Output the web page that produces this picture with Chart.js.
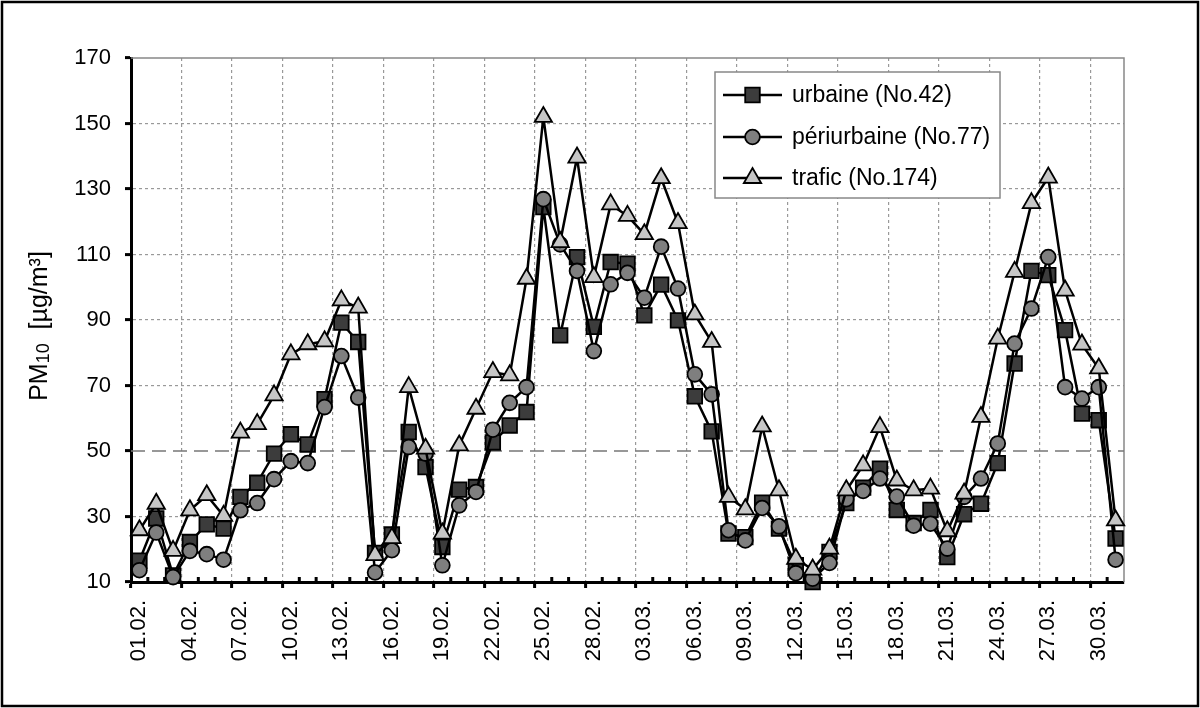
<!DOCTYPE html>
<html lang="fr">
<head>
<meta charset="UTF-8">
<title>PM10 février - mars</title>
<script src="https://cdn.jsdelivr.net/npm/chart.js@4.4.0/dist/chart.umd.min.js"></script>
<style>
  html, body { margin: 0; padding: 0; background: #fff; }
</style>
</head>
<body>
<canvas id="pm10" width="1200" height="708"></canvas>
<script>
// jours (catégories)
const dates = [
  '01.02.', '02.02.', '03.02.', '04.02.', '05.02.', '06.02.', '07.02.', '08.02.', '09.02.', '10.02.',
  '11.02.', '12.02.', '13.02.', '14.02.', '15.02.', '16.02.', '17.02.', '18.02.', '19.02.', '20.02.',
  '21.02.', '22.02.', '23.02.', '24.02.', '25.02.', '26.02.', '27.02.', '28.02.', '01.03.', '02.03.',
  '03.03.', '04.03.', '05.03.', '06.03.', '07.03.', '08.03.', '09.03.', '10.03.', '11.03.', '12.03.',
  '13.03.', '14.03.', '15.03.', '16.03.', '17.03.', '18.03.', '19.03.', '20.03.', '21.03.', '22.03.',
  '23.03.', '24.03.', '25.03.', '26.03.', '27.03.', '28.03.', '29.03.', '30.03.', '31.03.'
];

// valeurs journalières PM10 (µg/m³)
const urbaine = [
  16.5, 29.4, 12, 22.2, 27.6, 26.3, 36, 40.3, 49.2, 55.1,
  52, 65.8, 89.2, 83.3, 18.9, 24.5, 55.8, 45.1, 20.7, 38.2,
  39, 52.6, 57.8, 61.9, 124.5, 85.3, 109.2, 87.9, 107.7, 107.2,
  91.4, 100.8, 89.9, 66.7, 56, 24.8, 23.7, 34.2, 26.3, 15.1,
  10, 19.2, 34.1, 38.8, 44.6, 32, 28, 32, 17.6, 30.7,
  33.9, 46.3, 76.7, 105, 103.7, 86.9, 61.4, 59.4, 23.3
];
const periurbaine = [
  13.6, 25.1, 11.5, 19.5, 18.5, 16.8, 31.9, 34.1, 41.4, 46.9,
  46.3, 63.4, 79, 66.3, 12.9, 19.7, 51.2, 49.2, 15.1, 33.4,
  37.5, 56.5, 64.7, 69.5, 126.9, 113.1, 105, 80.5, 100.9, 104.4,
  96.8, 112.4, 99.6, 73.4, 67.3, 25.8, 22.7, 32.6, 27, 12.7,
  11, 15.8, 35.3, 37.8, 41.6, 36.1, 27.2, 27.8, 20.2, 36,
  41.6, 52.3, 82.8, 93.5, 109.2, 69.5, 66, 69.5, 16.8
];
const trafic = [
  25.8, 33.9, 19.5, 31.9, 36.5, 30.2, 55.6, 58.2, 67, 79.5,
  82.6, 83.5, 96, 93.8, 18.2, 23.4, 69.5, 50.7, 24.8, 51.7,
  62.9, 74.1, 73.1, 102.6, 152, 113.8, 139.6, 103.1, 125.3, 121.8,
  116.2, 133.3, 119.6, 91.7, 83.3, 36, 32.2, 57.5, 38, 17.1,
  13.8, 20.2, 38, 45.6, 57.3, 41, 38, 38.5, 25.5, 37,
  60.4, 84.3, 104.7, 125.7, 133.5, 99, 82.5, 75.2, 28.8
];

const seriesNames = ['urbaine (No.42)', 'périurbaine (No.77)', 'trafic (No.174)'];

// axe y : 10 à 170 par pas de 20, valeur limite 50
const yMin = 10;
const yMax = 170;
const yStep = 20;
const limitValue = 50;
const labelEvery = 3;

const FONT = 'Liberation Sans, Arial, sans-serif';
const clear = 'rgba(0,0,0,0)';

// decor : fond, valeur limite, petites graduations, titre y, légende, cadre
const decor = {
  id: 'decor',
  beforeDraw(chart) {
    const c = chart.ctx;
    c.save();
    c.fillStyle = '#fff';
    c.fillRect(0, 0, chart.width, chart.height);
    c.restore();
  },
  beforeDatasetsDraw(chart) {
    const c = chart.ctx;
    const a = chart.chartArea;
    const xs = chart.scales.x;
    const ys = chart.scales.y;
    c.save();
    // cadre haut / droite
    c.strokeStyle = '#888';
    c.lineWidth = 1.5;
    c.beginPath();
    c.moveTo(a.left, a.top);
    c.lineTo(a.right, a.top);
    c.lineTo(a.right, a.bottom);
    c.stroke();
    // ligne de la valeur limite
    const yl = ys.getPixelForValue(limitValue);
    c.strokeStyle = '#777';
    c.lineWidth = 1.5;
    c.setLineDash([14, 7]);
    c.beginPath();
    c.moveTo(a.left, yl);
    c.lineTo(a.right, yl);
    c.stroke();
    c.setLineDash([]);
    // petites graduations entre les jours
    c.strokeStyle = '#000';
    c.lineWidth = 3;
    for (let i = 1; i < dates.length; i++) {
      if (i % labelEvery === 0) continue;
      const xb = (xs.getPixelForValue(i - 1) + xs.getPixelForValue(i)) / 2;
      c.beginPath();
      c.moveTo(xb, a.bottom - 5);
      c.lineTo(xb, a.bottom);
      c.stroke();
    }
    c.restore();
  },
  afterDraw(chart) {
    const c = chart.ctx;
    const a = chart.chartArea;
    c.save();

    // titre de l'axe y : PM10  [µg/m³]
    c.translate(40, (a.top + a.bottom) / 2 + 6);
    c.rotate(-Math.PI / 2);
    c.fillStyle = '#000';
    c.textBaseline = 'middle';
    const big = '25px ' + FONT;
    const small = '18px ' + FONT;
    c.font = big;
    const w1 = c.measureText('PM').width;
    const w3 = c.measureText('  [µg/m³]').width;
    c.font = small;
    const w2 = c.measureText('10').width;
    const x0 = -(w1 + w2 + w3) / 2;
    c.font = big;
    c.fillText('PM', x0, 0);
    c.font = small;
    c.fillText('10', x0 + w1, 4);
    c.font = big;
    c.fillText('  [µg/m³]', x0 + w1 + w2, 0);
    c.setTransform(1, 0, 0, 1, 0, 0);

    // légende
    c.fillStyle = '#fff';
    c.fillRect(715, 72, 285, 126);
    c.strokeStyle = '#888';
    c.lineWidth = 1.5;
    c.strokeRect(715, 72, 285, 126);
    const rows = [95, 137, 178];
    chart.data.datasets.forEach((ds, k) => {
      const y = rows[k];
      c.strokeStyle = '#000';
      c.lineWidth = ds.borderWidth;
      c.beginPath();
      c.moveTo(723, y);
      c.lineTo(782, y);
      c.stroke();
      c.fillStyle = ds.pointBackgroundColor;
      c.strokeStyle = '#000';
      c.lineWidth = ds.pointBorderWidth;
      Chart.helpers.drawPoint(c, {
        pointStyle: ds.pointStyle, radius: ds.pointRadius, rotation: 0, borderWidth: ds.pointBorderWidth
      }, 752.5, y);
      c.fillStyle = '#000';
      c.font = '23px ' + FONT;
      c.textBaseline = 'middle';
      c.fillText(ds.label, 792, y + 1);
    });

    // cadre extérieur
    c.strokeStyle = '#000';
    c.lineWidth = 2.5;
    c.strokeRect(2, 2, chart.width - 4, chart.height - 4);
    c.restore();
  }
};

function serie(label, data, style, radius, fill, order) {
  return {
    label: label,
    data: data,
    borderColor: '#000',
    borderWidth: 2.5,
    pointStyle: style,
    pointRadius: radius,
    pointHoverRadius: radius,
    pointBackgroundColor: fill,
    pointBorderColor: '#000',
    pointBorderWidth: 1.8,
    tension: 0,
    fill: false,
    clip: false,
    order: order
  };
}

new Chart(document.getElementById('pm10'), {
  type: 'line',
  data: {
    labels: dates,
    datasets: [
      serie(seriesNames[0], urbaine, 'rect', 10.3, '#3c3c3c', 3),
      serie(seriesNames[1], periurbaine, 'circle', 7.4, '#7f7f7f', 2),
      serie(seriesNames[2], trafic, 'triangle', 10, '#c6c6c6', 1)
    ]
  },
  options: {
    responsive: false,
    animation: false,
    devicePixelRatio: 1,
    layout: { padding: { top: 58, right: 76, bottom: 0, left: 0 } },
    plugins: {
      legend: { display: false },
      tooltip: { enabled: false }
    },
    scales: {
      x: {
        type: 'category',
        offset: true,
        grid: {
          offset: true,
          color: ctx => (ctx.index > 0 && ctx.index % labelEvery === 0) ? '#999' : clear,
          lineWidth: 1.2,
          tickLength: 6,
          tickWidth: 3,
          tickColor: ctx => (ctx.index % labelEvery === 0) ? '#000' : clear
        },
        border: { color: '#000', width: 3, dash: [3, 3] },
        ticks: {
          autoSkip: false,
          minRotation: 90,
          maxRotation: 90,
          padding: 12,
          color: '#000',
          font: { family: FONT, size: 22 },
          callback: function (value, index) {
            return index % labelEvery === 0 ? this.getLabelForValue(value) : '';
          }
        },
        afterFit: scale => { scale.height = 126; }
      },
      y: {
        min: yMin,
        max: yMax,
        grid: {
          color: ctx => (ctx.tick && [yMin, yMax, limitValue].includes(ctx.tick.value)) ? clear : '#999',
          lineWidth: 1.2,
          tickLength: 6,
          tickWidth: 3,
          tickColor: '#000'
        },
        border: { color: '#000', width: 3, dash: [3, 3] },
        ticks: {
          stepSize: yStep,
          padding: 14,
          color: '#000',
          font: { family: FONT, size: 22 }
        },
        afterFit: scale => { scale.width = 131; }
      }
    }
  },
  plugins: [decor]
});
</script>
</body>
</html>
